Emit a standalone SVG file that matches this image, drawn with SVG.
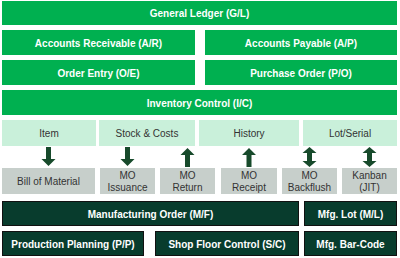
<svg xmlns="http://www.w3.org/2000/svg" width="400" height="258" viewBox="0 0 400 258">
<defs>
<style>
.g{fill:#00b050}
.l{fill:#c9f0da}
.y{fill:#c7cfcb}
.d{fill:#083c2d;stroke:#111;stroke-width:1}
.a{fill:#174a2b}
text{font-family:"Liberation Sans",Arial,sans-serif;font-size:10px;text-anchor:middle}
.w{fill:#fff;font-weight:bold}
.k{fill:#333}
</style>
<path id="dn" class="a" d="M-2.5,-10 H2.5 V2 H7 L0,9 L-7,2 H-2.5 Z"/>
<path id="up" class="a" d="M-2.5,10 H2.5 V-2 H7 L0,-9 L-7,-2 H-2.5 Z"/>
<path id="bi" class="a" d="M0,-10 L7,-4 H2.5 V4 H7 L0,10 L-7,4 H-2.5 V-4 H-7 Z"/>
</defs>
<g id="gl"><rect class="g" x="2" y="1" width="395" height="24"/><text class="w" x="199.5" y="17">General Ledger (G/L)</text></g>
<g id="ar"><rect class="g" x="2" y="30" width="193" height="25"/><text class="w" x="98.5" y="46.5">Accounts Receivable (A/R)</text></g>
<g id="ap"><rect class="g" x="205" y="30" width="192" height="25"/><text class="w" x="301" y="46.5">Accounts Payable (A/P)</text></g>
<g id="oe"><rect class="g" x="2" y="60" width="193" height="25"/><text class="w" x="98.5" y="76.5">Order Entry (O/E)</text></g>
<g id="po"><rect class="g" x="205" y="60" width="192" height="25"/><text class="w" x="301" y="76.5">Purchase Order (P/O)</text></g>
<g id="ic"><rect class="g" x="2" y="90" width="395" height="25"/><text class="w" x="199.5" y="106.5">Inventory Control (I/C)</text></g>
<g id="item"><rect class="l" x="2" y="120" width="94" height="26"/><text class="k" x="49" y="137">Item</text></g>
<g id="stock"><rect class="l" x="99" y="120" width="96" height="26"/><text class="k" x="147" y="137">Stock &amp; Costs</text></g>
<g id="history"><rect class="l" x="199" y="120" width="100" height="26"/><text class="k" x="249" y="137">History</text></g>
<g id="lot"><rect class="l" x="303" y="120" width="94" height="26"/><text class="k" x="350" y="137">Lot/Serial</text></g>
<g id="bom"><rect class="y" x="2" y="168" width="93" height="26"/><text class="k" x="48.5" y="185">Bill of Material</text></g>
<g id="issue"><rect class="y" x="100" y="168" width="55" height="26"/><text class="k" x="127.5" y="179">MO</text><text class="k" x="127.5" y="191">Issuance</text></g>
<g id="return"><rect class="y" x="160" y="168" width="55" height="26"/><text class="k" x="187.5" y="179">MO</text><text class="k" x="187.5" y="191">Return</text></g>
<g id="receipt"><rect class="y" x="221" y="168" width="56" height="26"/><text class="k" x="249" y="179">MO</text><text class="k" x="249" y="191">Receipt</text></g>
<g id="backflush"><rect class="y" x="282" y="168" width="55" height="26"/><text class="k" x="309.5" y="179">MO</text><text class="k" x="309.5" y="191">Backflush</text></g>
<g id="kanban"><rect class="y" x="342" y="168" width="55" height="26"/><text class="k" x="369.5" y="179">Kanban</text><text class="k" x="369.5" y="191">(JIT)</text></g>
<g id="mf"><rect class="d" x="2.5" y="201.5" width="296" height="24"/><text class="w" x="150.5" y="217.5">Manufacturing Order (M/F)</text></g>
<g id="ml"><rect class="d" x="304.5" y="201.5" width="92" height="24"/><text class="w" x="350.5" y="217.5">Mfg. Lot (M/L)</text></g>
<g id="pp"><rect class="d" x="2.5" y="231.5" width="141" height="24"/><text class="w" x="73" y="247.5">Production Planning (P/P)</text></g>
<g id="sc"><rect class="d" x="155.5" y="231.5" width="143" height="24"/><text class="w" x="227" y="247.5">Shop Floor Control (S/C)</text></g>
<g id="bar"><rect class="d" x="304.5" y="231.5" width="92" height="24"/><text class="w" x="350.5" y="247.5">Mfg. Bar-Code</text></g>
<g id="connectors">
<use href="#dn" x="48.5" y="157"/>
<use href="#dn" x="127.5" y="157"/>
<use href="#up" x="187.5" y="157"/>
<use href="#up" x="249" y="157"/>
<use href="#bi" x="309.5" y="157"/>
<use href="#bi" x="369.5" y="157"/>
</g>
</svg>
